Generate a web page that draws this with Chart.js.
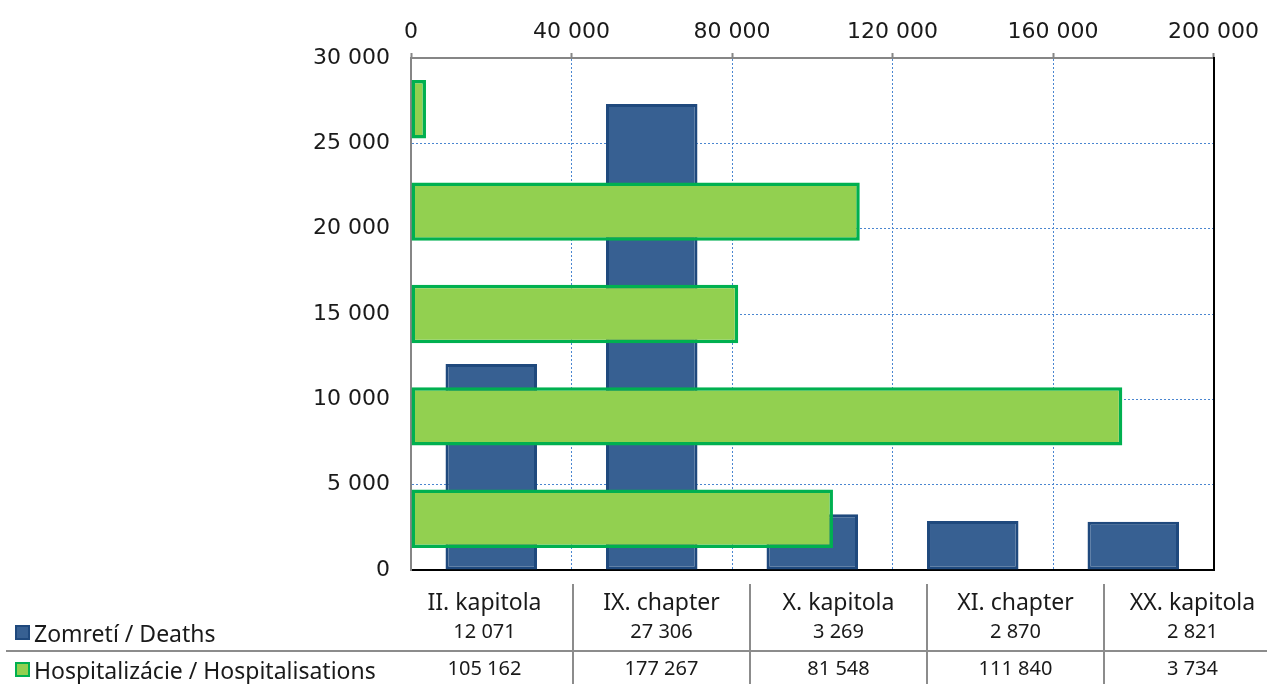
<!DOCTYPE html>
<html>
<head>
<meta charset="utf-8">
<script src="https://cdn.jsdelivr.net/npm/chart.js@4.4.1/dist/chart.umd.min.js"></script>
<style>
    html, body { margin: 0; padding: 0; background: #fff; }
    #wrap { position: relative; width: 1267px; height: 684px; overflow: hidden; }
    #chart { position: absolute; left: 0; top: 0; }
    .cell { position: absolute; height: 30px; line-height: 30px; text-align: center; white-space: nowrap; color: #1a1a1a; }
    .cat { font: 23px 'Noto Sans', sans-serif; }
    .num { font: 20px 'Noto Sans', sans-serif; }
    .name { font: 23px 'Noto Sans', sans-serif; text-align: left; }
    .mark { position: absolute; width: 11px; height: 11px; border: 2px solid; }
    .sep { position: absolute; background: #8c8c8c; }
</style>
</head>
<body>
<div id="wrap">
    <canvas id="chart" width="1267" height="684"></canvas>
    <div id="table"></div>
</div>
<script>
// data
const categories = ['II. kapitola', 'IX. chapter', 'X. kapitola', 'XI. chapter', 'XX. kapitola'];
const seriesNames = ['Zomretí / Deaths', 'Hospitalizácie / Hospitalisations'];
const deaths = [12071, 27306, 3269, 2870, 2821];
const hospitalisations = [105162, 177267, 81548, 111840, 3734];
const deathTicks = [0, 5000, 10000, 15000, 20000, 25000, 30000];
const hospTicks = [0, 40000, 80000, 120000, 160000, 200000];

const blueFill = '#376092', blueLine = '#1F497D';
const greenFill = '#92D050', greenLine = '#00B050';
const gridBlue = '#4A86D0';
const axisGray = '#868686';

function fmt(v) {
    return String(v).replace(/\B(?=(\d{3})+(?!\d))/g, ' ');
}

const tickFont = { family: "'DejaVu Sans', sans-serif", size: 22 };

// hide grid lines that sit on the frame
function innerGrid(ticks) {
    return ctx => {
        const v = ctx.tick ? ctx.tick.value : null;
        return (v === ticks[0] || v === ticks[ticks.length - 1]) ? 'rgba(0,0,0,0)' : gridBlue;
    };
}

const ctx = document.getElementById('chart').getContext('2d');
new Chart(ctx, {
    type: 'bar',
    data: {
        labels: categories,
        datasets: [
            {
                label: seriesNames[1],
                data: hospitalisations,
                indexAxis: 'y',
                xAxisID: 'x2',
                yAxisID: 'y2',
                backgroundColor: greenFill,
                borderColor: greenLine,
                borderWidth: 3.5,
                borderSkipped: false,
                grouped: false,
                barPercentage: 0.57,
                categoryPercentage: 1,
                order: 0
            },
            {
                label: seriesNames[0],
                data: deaths,
                xAxisID: 'x',
                yAxisID: 'y',
                backgroundColor: blueFill,
                borderColor: blueLine,
                borderWidth: 3,
                borderSkipped: false,
                grouped: false,
                barPercentage: 0.57,
                categoryPercentage: 1,
                order: 1
            }
        ]
    },
    options: {
        responsive: false,
        animation: false,
        events: [],
        layout: { padding: { left: 0, top: 0, right: 49, bottom: 114 } },
        plugins: {
            legend: { display: false },
            tooltip: { enabled: false },
            title: { display: false }
        },
        scales: {
            x: {
                type: 'category',
                position: 'bottom',
                offset: true,
                grid: { display: false, drawTicks: false },
                ticks: { display: false },
                border: { color: '#000', width: 2 },
                afterFit: s => { s.height = 0; }
            },
            y: {
                type: 'linear',
                position: 'left',
                min: deathTicks[0],
                max: deathTicks[deathTicks.length - 1],
                afterBuildTicks: s => { s.ticks = deathTicks.map(v => ({ value: v })); },
                ticks: { padding: 21, color: '#1a1a1a', font: tickFont, callback: v => fmt(v) },
                grid: { color: innerGrid(deathTicks), lineWidth: 1, drawTicks: false },
                border: { color: axisGray, width: 2, dash: [2, 2] },
                afterFit: s => { s.width = 411; }
            },
            x2: {
                type: 'linear',
                axis: 'x',
                position: 'top',
                offset: false,
                min: hospTicks[0],
                max: hospTicks[hospTicks.length - 1],
                afterBuildTicks: s => { s.ticks = hospTicks.map(v => ({ value: v })); },
                ticks: { padding: 8, color: '#1a1a1a', font: tickFont, maxRotation: 0, callback: v => fmt(v) },
                grid: { offset: false, color: innerGrid(hospTicks), lineWidth: 1, drawTicks: true, tickLength: 5, tickColor: axisGray, tickWidth: 2 },
                border: { color: axisGray, width: 2, dash: [2, 2] },
                afterFit: s => { s.height = 58; }
            },
            y2: {
                type: 'category',
                axis: 'y',
                position: 'right',
                reverse: true,
                offset: true,
                grid: { display: false, drawTicks: false },
                ticks: { display: false },
                border: { color: '#000', width: 2 },
                afterFit: s => { s.width = 0; }
            }
        }
    }
});

// data table under the plot
const table = document.getElementById('table');
const colLeft = 396, colWidth = 177;
const rowMid = [600, 632, 669];

function addCell(text, cls, left, width, mid) {
    const d = document.createElement('div');
    d.className = 'cell ' + cls;
    d.textContent = text;
    d.style.left = left + 'px';
    d.style.width = width + 'px';
    d.style.top = (mid - 15) + 'px';
    table.appendChild(d);
}

categories.forEach((c, i) => {
    addCell(c, 'cat', colLeft + i * colWidth, colWidth, rowMid[0]);
    addCell(fmt(deaths[i]), 'num', colLeft + i * colWidth, colWidth, rowMid[1]);
    addCell(fmt(hospitalisations[i]), 'num', colLeft + i * colWidth, colWidth, rowMid[2]);
});

[[seriesNames[0], blueFill, blueLine], [seriesNames[1], greenFill, greenLine]].forEach((s, i) => {
    const mid = rowMid[i + 1];
    addCell(s[0], 'name', 34, 380, mid);
    const m = document.createElement('div');
    m.className = 'mark';
    m.style.left = '15px';
    m.style.top = (mid - 7) + 'px';
    m.style.background = s[1];
    m.style.borderColor = s[2];
    table.appendChild(m);
});

for (let i = 1; i < categories.length; i++) {
    const v = document.createElement('div');
    v.className = 'sep';
    v.style.left = (colLeft + i * colWidth - 1) + 'px';
    v.style.top = '584px';
    v.style.width = '2px';
    v.style.height = '100px';
    table.appendChild(v);
}
const h = document.createElement('div');
h.className = 'sep';
h.style.left = '6px';
h.style.top = '650px';
h.style.width = '1261px';
h.style.height = '2px';
table.appendChild(h);
</script>
</body>
</html>
